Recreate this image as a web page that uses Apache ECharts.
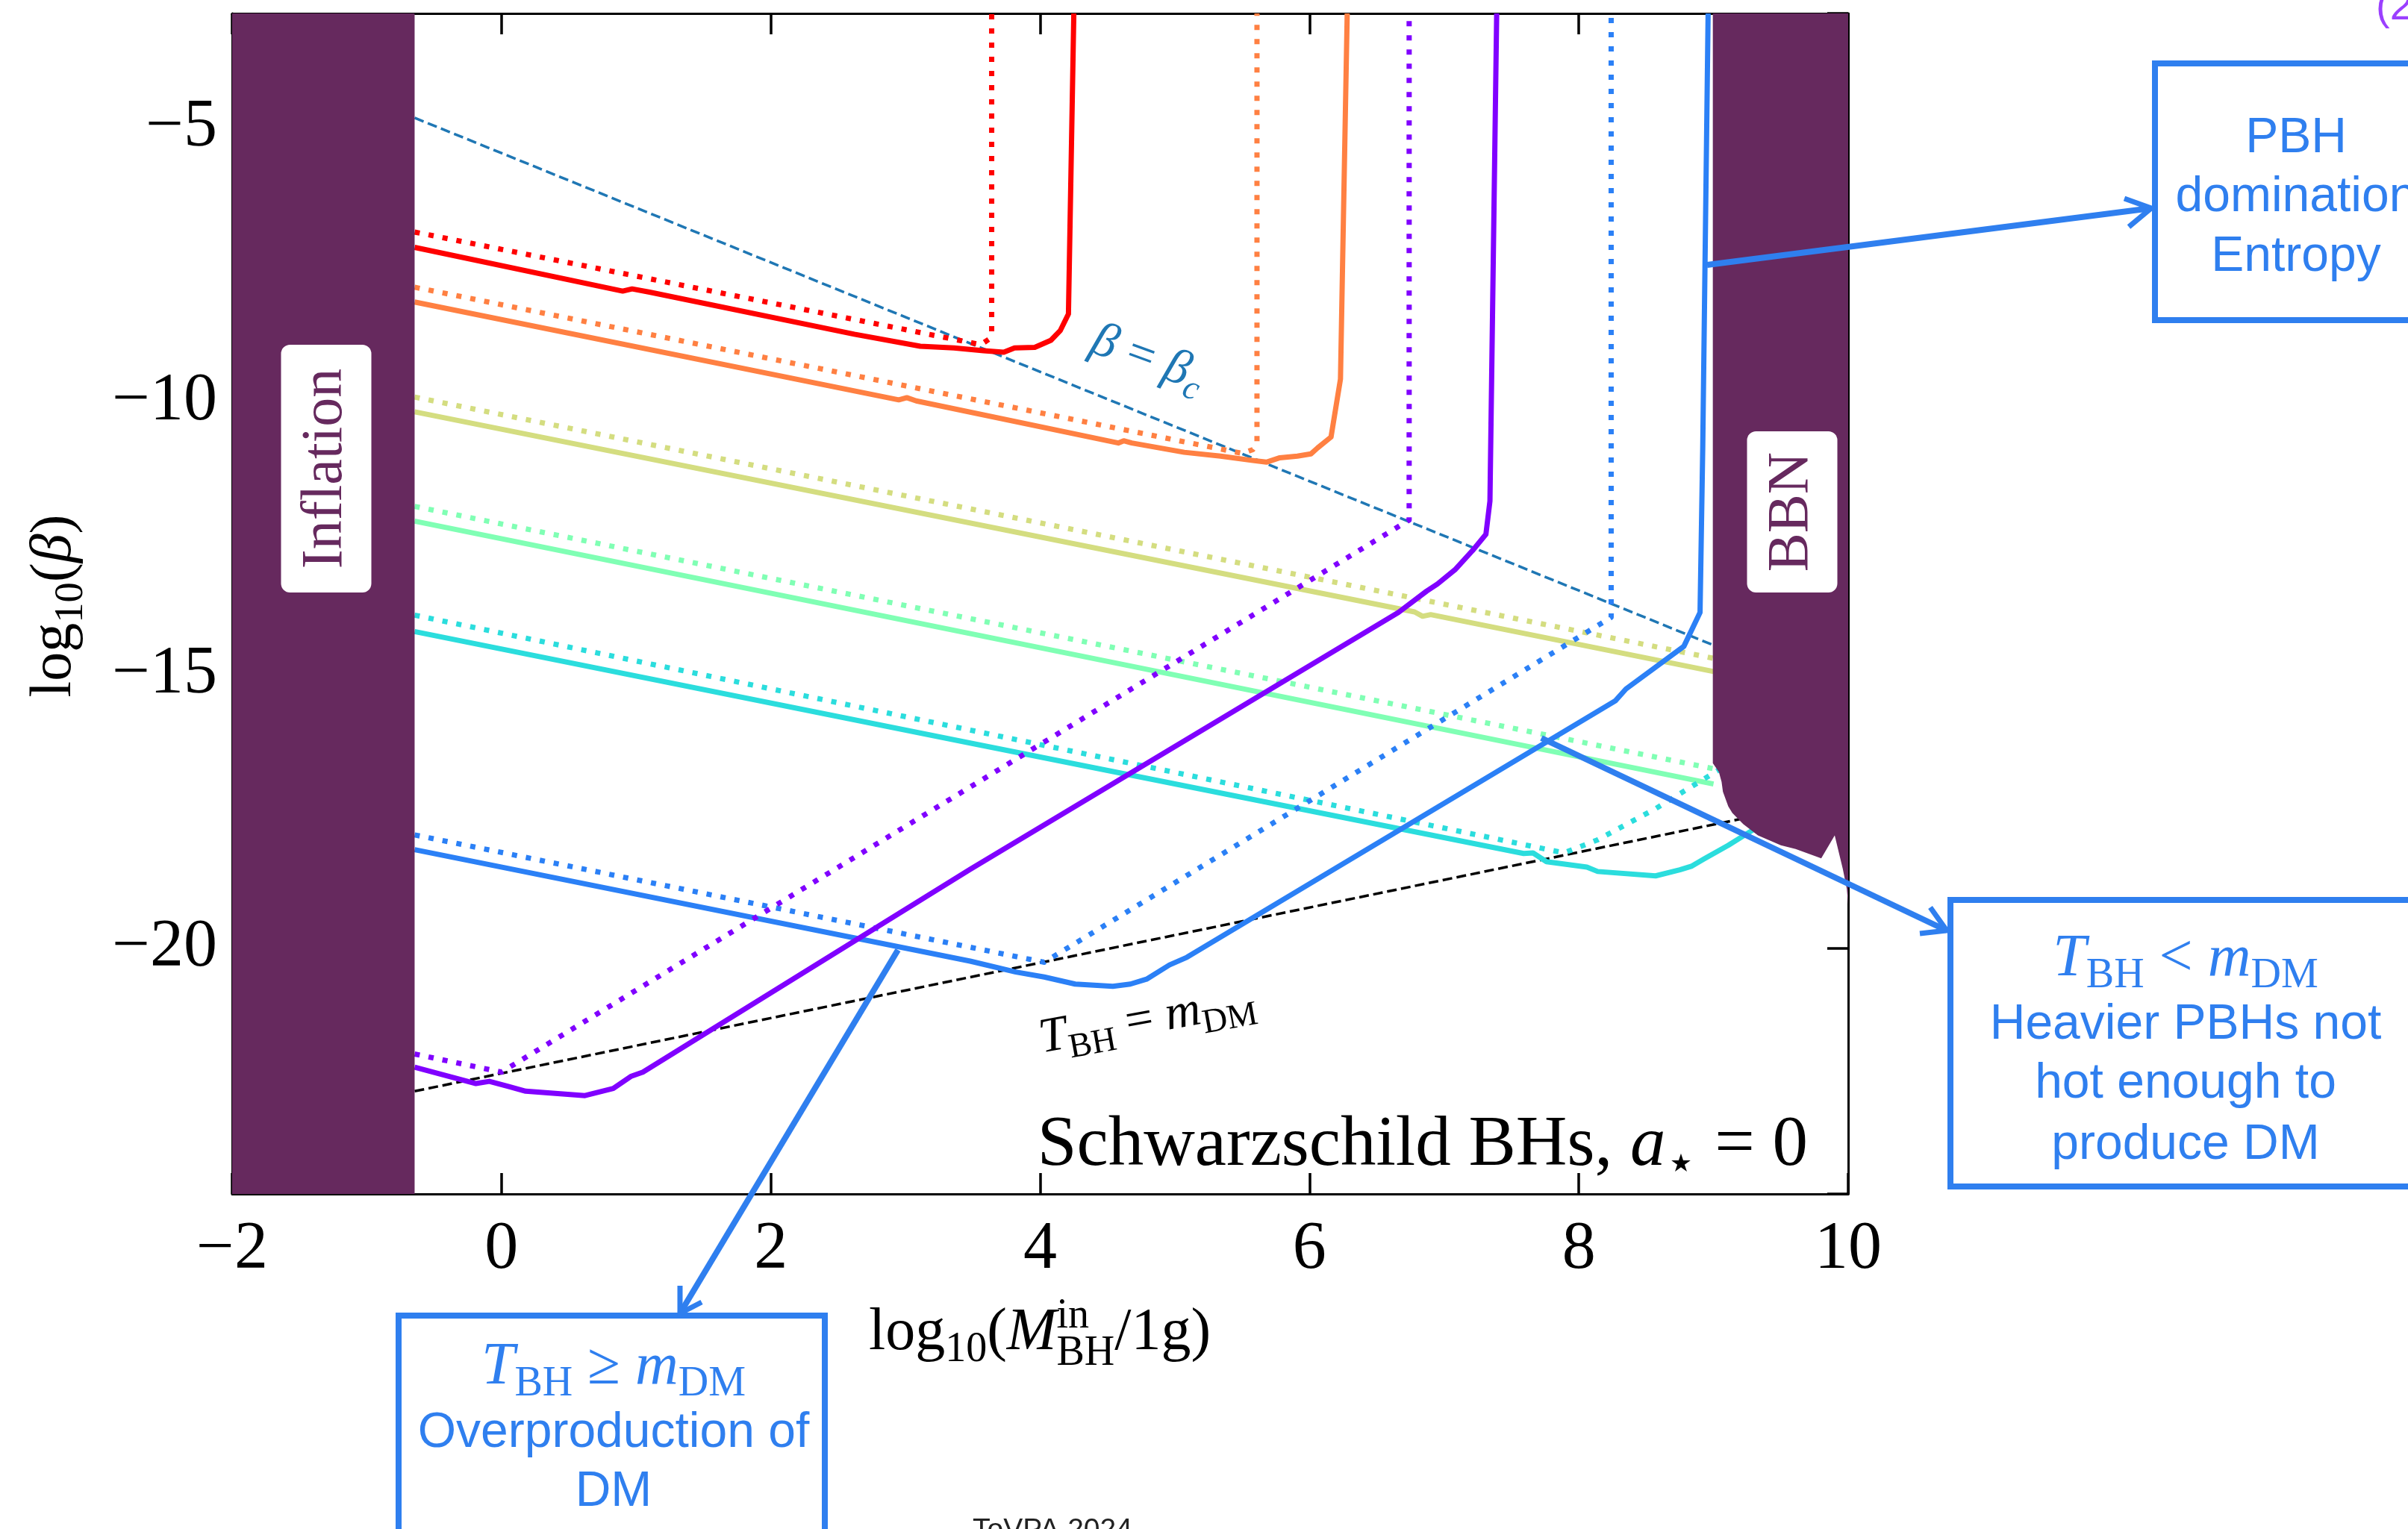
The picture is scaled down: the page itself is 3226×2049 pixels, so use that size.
<!DOCTYPE html>
<html>
<head>
<meta charset="utf-8">
<style>
  html, body { margin: 0; padding: 0; background: #fff; }
  #main { width: 3226px; height: 2049px; }
</style>
<script src="https://cdn.jsdelivr.net/npm/echarts@6/dist/echarts.min.js"></script>
</head>
<body>
<div id="main"></div>
<script>
// axis extents, log10(M/1g) and log10(beta)
const xRange = [-2, 10];
const yRange = [-24.5, -2.9];

// excluded regions
const inflationRegion = [[-2, -24.5], [-0.645, -24.5], [-0.645, -2.9], [-2, -2.9]];
const bbnRegion = [[8.995, -2.9], [8.995, -16.62], [9.04, -16.78], [9.06, -16.96], [9.07, -17.14],
  [9.11, -17.41], [9.14, -17.53], [9.22, -17.73], [9.33, -17.94], [9.50, -18.12], [9.61, -18.19],
  [9.80, -18.36], [9.90, -17.94], [9.96, -18.55], [9.99, -18.92], [10, -19.2], [10, -2.9]];

// reference lines
const betaCrit = [[-0.645, -4.81], [9.0, -14.46]];
const tempEqMass = [[-0.645, -22.62], [9.2, -17.64]];

// one solid + one dotted curve per dark matter mass (rainbow order)
const redSolid = [[-0.645, -7.18], [0.9, -7.98], [0.97, -7.94], [1.1, -8.0], [2.62, -8.77], [3.11, -8.99],
  [3.36, -9.02], [3.58, -9.07], [3.73, -9.10], [3.81, -9.02], [3.96, -9.01], [4.08, -8.88], [4.15, -8.70],
  [4.21, -8.40], [4.25, -2.9]];
const redDotted = [[-0.645, -6.90], [3.56, -8.96], [3.62, -8.86], [3.64, -8.76], [3.64, -2.9]];

const orangeSolid = [[-0.645, -8.18], [2.95, -9.97], [3.01, -9.93], [3.08, -9.99], [4.58, -10.76],
  [4.62, -10.72], [4.68, -10.76], [5.07, -10.93], [5.34, -11.0], [5.58, -11.08], [5.68, -11.11],
  [5.78, -11.03], [5.91, -11.0], [6.01, -10.96], [6.06, -10.85], [6.16, -10.65], [6.23, -9.59], [6.28, -2.9]];
const orangeDotted = [[-0.645, -7.91], [5.50, -10.95], [5.58, -10.88], [5.61, -10.78], [5.61, -2.9]];

const yellowSolid = [[-0.645, -10.19], [6.78, -13.85], [6.84, -13.93], [6.9, -13.9], [9.0, -14.94]];
const yellowDotted = [[-0.645, -9.92], [9.0, -14.70]];

const greenSolid = [[-0.645, -12.19], [9.0, -17.0]];
const greenDotted = [[-0.645, -11.92], [9.0, -16.72]];

const cyanSolid = [[-0.645, -14.21], [3.48, -16.25], [7.59, -18.27], [7.66, -18.26], [7.76, -18.42],
  [8.06, -18.52], [8.14, -18.60], [8.57, -18.68], [8.75, -18.57], [8.84, -18.50], [8.93, -18.37],
  [9.11, -18.12], [9.26, -17.89], [9.45, -17.60]];
const cyanDotted = [[-0.645, -13.91], [7.89, -18.26], [8.14, -18.02], [8.57, -17.45], [9.0, -16.8], [9.4, -16.2]];

const blueSolid = [[-0.645, -18.20], [3.48, -20.24], [3.82, -20.44], [4.03, -20.53], [4.26, -20.66],
  [4.54, -20.70], [4.67, -20.66], [4.79, -20.57], [4.96, -20.31], [5.09, -20.17], [8.27, -15.48],
  [8.35, -15.26], [8.78, -14.48], [8.90, -13.86], [8.92, -10.86], [8.96, -2.9]];
const blueDotted = [[-0.645, -17.93], [4.03, -20.26], [8.24, -13.95], [8.24, -2.9]];

const purpleSolid = [[-0.645, -22.18], [-0.19, -22.48], [-0.09, -22.44], [0.045, -22.53], [0.18, -22.62],
  [0.62, -22.70], [0.83, -22.57], [0.96, -22.35], [1.05, -22.27], [3.48, -18.56], [6.66, -13.86],
  [6.87, -13.47], [6.95, -13.34], [7.08, -13.08], [7.21, -12.73], [7.31, -12.43], [7.34, -11.82], [7.39, -2.9]];
const purpleDotted = [[-0.645, -21.94], [0.0, -22.27], [6.74, -12.17], [6.74, -2.9]];

const regionColor = '#66295e';
const noteBlue = '#2f7fef';

// ---- text helpers (math-like labels built from several text pieces) ----
const measurer = document.createElement('canvas').getContext('2d');
function fontOf(size, italic, family) {
  return (italic ? 'italic ' : '') + size.toFixed(1) + 'px "' + family + '"';
}
function widthOf(text, size, italic, family) {
  measurer.font = fontOf(size, italic, family);
  return measurer.measureText(text).width;
}
// how far (in em) the drawn "middle" line sits above the alphabetic baseline
const MID = { 'Liberation Serif': 0.255, 'Liberation Sans': 0.258 };

function textLine(o) {
  const family = o.family || 'Liberation Serif';
  const size = o.size;
  const mid = MID[family] || 0.26;
  const pieces = [];
  let cx = 0;
  o.parts.forEach(p => {
    if (p.over !== undefined) {
      const s = size * 0.7;
      pieces.push({ t: p.over, x: cx, base: -size * 0.36, s });
      pieces.push({ t: p.under, x: cx, base: size * 0.27, s });
      cx += Math.max(widthOf(p.over, s, false, family), widthOf(p.under, s, false, family));
      return;
    }
    const s = (p.sub || p.sup) ? size * 0.7 : size;
    const base = p.sub ? size * 0.21 : p.sup ? -size * 0.4 : 0;
    pieces.push({ t: p.t, x: cx, base, s, it: p.it });
    cx += widthOf(p.t, s, p.it, family);
  });
  const shift = o.align === 'center' ? -cx / 2 : o.align === 'right' ? -cx : 0;
  return {
    type: 'group', x: o.x, y: o.y, rotation: o.rotation || 0, silent: true, z: 100,
    children: pieces.map(q => ({
      type: 'text', x: q.x + shift, y: q.base - mid * q.s, z: 100,
      style: {
        text: q.t, font: fontOf(q.s, q.it, family), fill: o.color || '#000',
        align: 'left', verticalAlign: 'middle', textAlign: 'left', textVerticalAlign: 'middle'
      }
    }))
  };
}
const T = (rel) => [{ t: 'T', it: true }, { t: 'BH', sub: true }, { t: rel }, { t: 'm', it: true }, { t: 'DM', sub: true }];
function sans(text, x, y) {
  return textLine({ x, y, size: 66, family: 'Liberation Sans', align: 'center', color: noteBlue, parts: [{ t: text }] });
}
function box(x, y, w, h) {
  return { type: 'rect', silent: true, z: 100, shape: { x, y, width: w, height: h }, style: { stroke: noteBlue, lineWidth: 8, fill: null } };
}
function arrow(from, tip, wingA, wingB) {
  return [
    { type: 'polyline', silent: true, z: 100, shape: { points: [from, tip] }, style: { stroke: noteBlue, lineWidth: 8, fill: null } },
    { type: 'polyline', silent: true, z: 100, shape: { points: [wingA, tip, wingB] }, style: { stroke: noteBlue, lineWidth: 7, fill: null } }
  ];
}
function regionLabel(text, cx, cy, w, h) {
  return [
    { type: 'rect', silent: true, shape: { x: cx - w / 2, y: cy - h / 2, width: w, height: h, r: 12 }, style: { fill: '#fff' }, z: 100 },
    { type: 'text', silent: true, x: cx, y: cy, rotation: Math.PI / 2, z: 101,
      style: { text, font: '78px "Liberation Serif"', fill: regionColor, align: 'center', verticalAlign: 'middle', textAlign: 'center', textVerticalAlign: 'middle' } }
  ];
}

// ---- series ----
function curve(data, color, kind) {
  const dot = kind === 'dot', dash = kind === 'dash';
  return {
    type: 'line', data, showSymbol: false, symbol: 'none', silent: true, z: 2,
    lineStyle: {
      color, width: dot ? 7 : dash ? 3.5 : 7,
      type: dot ? [7, 12] : dash ? [13, 6] : 'solid', cap: 'butt', join: 'round'
    }
  };
}
function region(pts) {
  return {
    type: 'custom', silent: true, z: 5, data: pts, encode: { x: 0, y: 1 },
    renderItem(params, api) {
      if (params.dataIndex !== 0) return null;
      return { type: 'polygon', shape: { points: pts.map(p => api.coord(p)) }, style: { fill: regionColor } };
    }
  };
}

const minusFmt = v => (v < 0 ? '\u2212' + Math.abs(v) : String(v));
const tickStyle = { show: true, inside: true, length: 28, lineStyle: { color: '#000', width: 3.5 } };
const lineAxis = { show: true, onZero: false, lineStyle: { color: '#000', width: 3 } };

const chart = echarts.init(document.getElementById('main'), null, { renderer: 'canvas' });
chart.setOption({
  animation: false,
  backgroundColor: '#fff',
  grid: { left: 311, right: 750, top: 18, bottom: 449, containLabel: false, outerBoundsMode: 'none' },
  xAxis: [
    { type: 'value', min: xRange[0], max: xRange[1], interval: 2, position: 'bottom',
      axisLine: lineAxis, axisTick: tickStyle, splitLine: { show: false },
      axisLabel: { formatter: minusFmt, fontFamily: 'Liberation Serif', fontSize: 90, color: '#000', margin: 30 } },
    { type: 'value', min: xRange[0], max: xRange[1], interval: 2, position: 'top',
      axisLine: lineAxis, axisTick: tickStyle, splitLine: { show: false }, axisLabel: { show: false } }
  ],
  yAxis: [
    { type: 'value', min: yRange[0], max: yRange[1], minInterval: 5, maxInterval: 5, position: 'left',
      axisLine: lineAxis, axisTick: tickStyle, splitLine: { show: false },
      axisLabel: { formatter: v => (v % 5 === 0 ? minusFmt(v) : ''), fontFamily: 'Liberation Serif',
        fontSize: 90, color: '#000', margin: 20, showMinLabel: false, showMaxLabel: false } },
    { type: 'value', min: yRange[0], max: yRange[1], minInterval: 5, maxInterval: 5, position: 'right',
      axisLine: lineAxis, axisTick: tickStyle, splitLine: { show: false }, axisLabel: { show: false } }
  ],
  series: [
    curve(betaCrit, '#1f77b4', 'dash'),
    curve(tempEqMass, '#000000', 'dash'),
    curve(redDotted, '#ff0000', 'dot'), curve(redSolid, '#ff0000'),
    curve(orangeDotted, '#ff8042', 'dot'), curve(orangeSolid, '#ff8042'),
    curve(yellowDotted, '#d4dd80', 'dot'), curve(yellowSolid, '#d4dd80'),
    curve(greenDotted, '#80ffb4', 'dot'), curve(greenSolid, '#80ffb4'),
    curve(cyanDotted, '#2bdddd', 'dot'), curve(cyanSolid, '#2bdddd'),
    curve(blueDotted, '#2b80f6', 'dot'), curve(blueSolid, '#2b80f6'),
    curve(purpleDotted, '#8000ff', 'dot'), curve(purpleSolid, '#8000ff'),
    region(inflationRegion),
    region(bbnRegion)
  ],
  graphic: [].concat(
    regionLabel('Inflation', 437, 628, 121, 332),
    regionLabel('BBN', 2401, 686, 121, 216),
    [
      // axis titles
      textLine({ x: 1393, y: 1807, size: 80, align: 'center',
        parts: [{ t: 'log' }, { t: '10', sub: true }, { t: '(' }, { t: 'M', it: true }, { over: 'in', under: 'BH' }, { t: '/1g)' }] }),
      textLine({ x: 93, y: 812, size: 78, align: 'center', rotation: Math.PI / 2,
        parts: [{ t: 'log' }, { t: '10', sub: true }, { t: '(' }, { t: '\u03b2', it: true }, { t: ')' }] }),
      // in-plot labels
      textLine({ x: 2422, y: 1560, size: 95, align: 'right',
        parts: [{ t: 'Schwarzschild BHs, ' }, { t: 'a', it: true }, { t: '\u22c6', sub: true }, { t: ' = 0' }] }),
      textLine({ x: 1532, y: 497, size: 66, align: 'center', rotation: -0.349, color: '#1f77b4',
        parts: [{ t: '\u03b2', it: true }, { t: ' = ' }, { t: '\u03b2', it: true }, { t: 'c', it: true, sub: true }] }),
      textLine({ x: 1396, y: 1410, size: 66, align: 'left', rotation: 0.18, parts: T(' = ') }),
      // annotation boxes
      box(2887, 85, 600, 344), box(2613, 1206, 700, 384), box(534, 1763, 571, 400),
      sans('PBH', 3076, 203), sans('domination', 3076, 282), sans('Entropy', 3076, 362),
      textLine({ x: 2928, y: 1306, size: 80, align: 'center', color: noteBlue, parts: T(' < ') }),
      sans('Heavier PBHs not', 2928, 1391), sans('hot enough to', 2928, 1470), sans('produce DM', 2928, 1552),
      textLine({ x: 822, y: 1853, size: 80, align: 'center', color: noteBlue, parts: T(' \u2265 ') }),
      sans('Overproduction of', 822, 1938), sans('DM', 822, 2017),
      // cut-off footers
      textLine({ x: 1303, y: 2061, size: 39, family: 'Liberation Sans', align: 'left', color: '#222', parts: [{ t: 'ToVPA 2024' }] }),
      textLine({ x: 3183, y: 25, size: 56, family: 'Liberation Sans', align: 'left', color: '#9b3fff', parts: [{ t: '(2' }] })
    ],
    arrow([2287, 355], [2882, 279], [2846, 266], [2852, 304]),
    arrow([2065, 989], [2608, 1247], [2586, 1216], [2572, 1251]),
    arrow([1203, 1273], [911, 1760], [911, 1723], [940, 1745])
  )
});
</script>
</body>
</html>
